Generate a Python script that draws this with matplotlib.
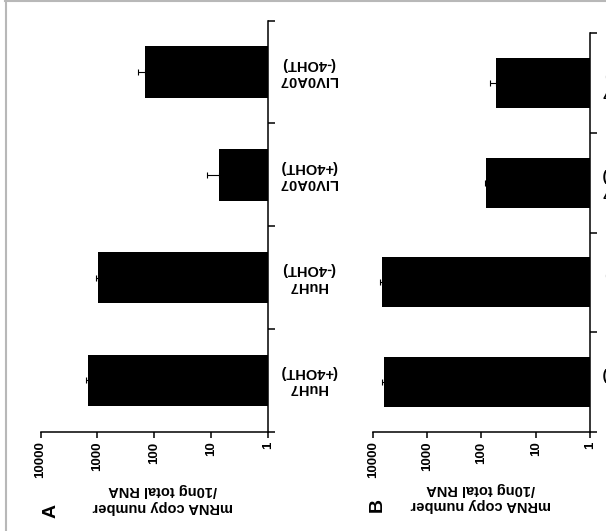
import matplotlib
matplotlib.use('Agg')
import matplotlib.pyplot as plt
import matplotlib.transforms as mtransforms
from matplotlib.lines import Line2D
from matplotlib.ticker import NullLocator
import numpy as np

plt.rcParams['font.family'] = ['Liberation Sans', 'DejaVu Sans']
plt.rcParams['font.weight'] = 'bold'

# data (bottom to top as drawn)
cells = ['HuH7\n(+4OHT)', 'HuH7\n(-4OHT)', 'LIV0A07\n(+4OHT)', 'LIV0A07\n(-4OHT)']
copies_a = [1466, 977, 7.3, 143]
err_a = [124, 73, 4.5, 53]
copies_b = [6310, 6860, 82, 55]
err_b = [550, 580, 6, 16]
ticks = [1, 10, 100, 1000, 10000]
tick_labels = ['1', '10', '100', '1000', '10000']
ylabel = 'mRNA copy number\n/10ng total RNA'

W, H = 606, 531
fig = plt.figure(figsize=(W / 100, H / 100), dpi=100)


def panel(rect, values, errs, letter, letter_xy, label_xy):
    """ one upside-down bar panel """
    ax = fig.add_axes(rect)
    y = np.arange(len(cells))
    vals = np.array(values, dtype=float)
    ax.set_xscale('log')
    ax.barh(y, vals - 1, left=1, height=0.5, color='black',
            xerr=[np.zeros(len(vals)), errs],
            error_kw=dict(ecolor='black', elinewidth=0.8, capsize=2, capthick=0.8))
    ax.set_xlim(10000, 1)
    ax.set_ylim(-0.5, len(cells) - 0.5)

    for s in ['top', 'left']:
        ax.spines[s].set_visible(False)
    for s in ['right', 'bottom']:
        ax.spines[s].set_linewidth(1.1)

    ax.set_xticks(ticks)
    ax.set_xticklabels(tick_labels, rotation=90, fontsize=9.5, fontweight='bold')
    ax.xaxis.set_minor_locator(NullLocator())
    ax.tick_params(axis='x', direction='out', length=4, width=1.1, pad=3)

    ax.yaxis.tick_right()
    ax.set_yticks(np.arange(len(cells) + 1) - 0.5)
    ax.set_yticklabels([])
    ax.tick_params(axis='y', direction='out', length=5, width=1.1)

    trans = mtransforms.blended_transform_factory(ax.transAxes, ax.transData)
    for yi, name in zip(y, cells):
        ax.annotate(name, xy=(1, yi), xycoords=trans, xytext=(40, 0),
                    textcoords='offset pixels', rotation=180, ha='center',
                    va='center', fontsize=10.5, fontweight='bold',
                    annotation_clip=False)

    fig.text(label_xy[0] / W, 1 - label_xy[1] / H, ylabel, rotation=180,
             ha='center', va='center', fontsize=10.5, fontweight='bold')
    fig.text(letter_xy[0] / W, 1 - letter_xy[1] / H, letter, rotation=90,
             ha='center', va='center', fontsize=14, fontweight='bold')
    return ax


panel([40.6 / W, 1 - 431.7 / H, 227.4 / W, 411 / H], copies_a, err_a,
      'A', (51, 511), (163, 498.5))
panel([373 / W, 1 - 431.7 / H, 217 / W, 398.4 / H], copies_b, err_b,
      'B', (377, 505), (481, 497))

# grey frame of the scanned page
fig.add_artist(Line2D([5.7 / W, 5.7 / W], [0, 1], transform=fig.transFigure,
                      color='#b8b8b8', lw=1.5))
fig.add_artist(Line2D([5 / W, 1], [1 - 0.7 / H, 1 - 0.7 / H],
                      transform=fig.transFigure, color='#b8b8b8', lw=1.5))

fig.savefig('out.png', dpi=100)
